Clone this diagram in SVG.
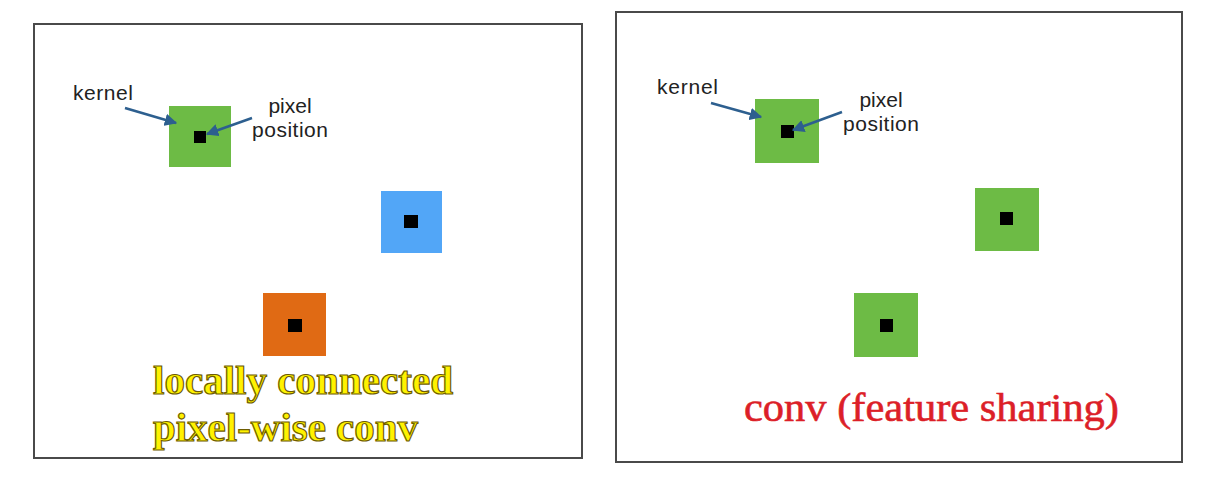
<svg xmlns="http://www.w3.org/2000/svg" width="1205" height="496" viewBox="0 0 1205 496">
<style>
.frame{fill:#fff;stroke:#4a4a4a;stroke-width:2}
.green{fill:#6dbb45}
.blue{fill:#52a6f7}
.orange{fill:#e06a14}
.px{fill:#000}
.lbl{font-family:"Liberation Sans",Arial,sans-serif;font-size:21px;fill:#222}
.arrow{stroke:#2d5f8f;stroke-width:2.5;fill:none;marker-end:url(#ah)}
.yel{font-family:"Liberation Serif","Times New Roman",serif;font-weight:bold;font-size:41px;fill:#fff200;stroke:#6e5c00;stroke-width:1.2}
.red{font-family:"Liberation Serif","Times New Roman",serif;font-size:41px;fill:#dc1f28;stroke:#dc1f28;stroke-width:0.6}
</style>
<defs>
<marker id="ah" viewBox="0 0 10 10" refX="9" refY="5" markerWidth="5" markerHeight="5" orient="auto" markerUnits="strokeWidth">
<path d="M0,0 L10,5 L0,10 z" fill="#2d5f8f"/>
</marker>
</defs>
<rect width="1205" height="496" fill="#fff"/>
<g id="panel-left">
<rect class="frame" x="34" y="24" width="548" height="434"/>
</g>
<g id="panel-right">
<rect class="frame" x="616" y="12" width="566" height="450"/>
</g>
<g id="kernel-green-left">
<rect class="green" x="169" y="106" width="62" height="61"/>
<rect class="px" x="194" y="131" width="12" height="12"/>
</g>
<g id="kernel-blue-left">
<rect class="blue" x="381" y="191" width="61" height="62"/>
<rect class="px" x="404" y="215" width="14" height="13"/>
</g>
<g id="kernel-orange-left">
<rect class="orange" x="263" y="293" width="63" height="63"/>
<rect class="px" x="288" y="319" width="14" height="13"/>
</g>
<g id="kernel-green-right-1">
<rect class="green" x="755" y="99" width="64" height="64"/>
<rect class="px" x="781" y="125" width="13" height="13"/>
</g>
<g id="kernel-green-right-2">
<rect class="green" x="975" y="188" width="64" height="63"/>
<rect class="px" x="1000" y="212" width="13" height="13"/>
</g>
<g id="kernel-green-right-3">
<rect class="green" x="854" y="293" width="64" height="64"/>
<rect class="px" x="880" y="319" width="13" height="13"/>
</g>
<g id="labels-left">
<text class="lbl" x="73" y="100" textLength="60">kernel</text>
<text class="lbl" x="290" y="113" text-anchor="middle">pixel</text>
<text class="lbl" x="290" y="137" text-anchor="middle" textLength="76">position</text>
</g>
<g id="labels-right">
<text class="lbl" x="657" y="94" textLength="61">kernel</text>
<text class="lbl" x="881" y="107" text-anchor="middle">pixel</text>
<text class="lbl" x="881" y="131" text-anchor="middle" textLength="76">position</text>
</g>
<g id="connectors">
<line class="arrow" x1="125" y1="108" x2="176" y2="123"/>
<line class="arrow" x1="252" y1="118" x2="207" y2="134"/>
<line class="arrow" x1="711" y1="103" x2="761" y2="117"/>
<line class="arrow" x1="842" y1="112" x2="793" y2="130"/>
</g>
<g id="caption-left">
<text class="yel" x="153" y="394" textLength="300" lengthAdjust="spacingAndGlyphs">locally connected</text>
<text class="yel" x="153" y="441" textLength="265" lengthAdjust="spacingAndGlyphs">pixel-wise conv</text>
</g>
<g id="caption-right">
<text class="red" x="744" y="421" textLength="375" lengthAdjust="spacingAndGlyphs">conv (feature sharing)</text>
</g>
</svg>
